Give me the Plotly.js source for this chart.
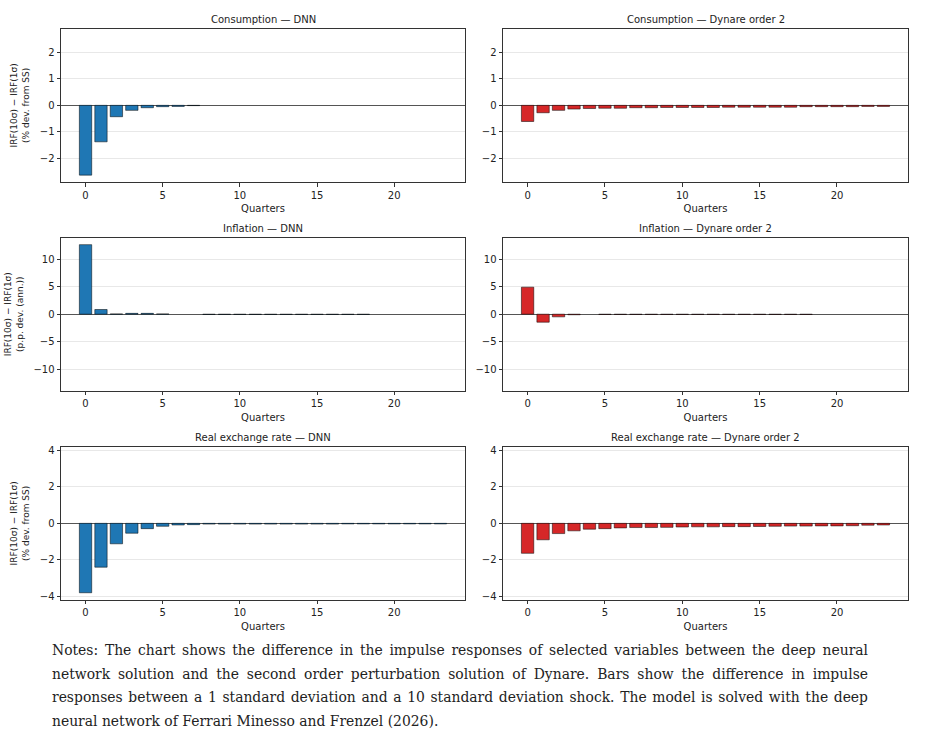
<!DOCTYPE html>
<html>
<head>
<meta charset="utf-8">
<script src="https://cdn.plot.ly/plotly-3.0.1.min.js"></script>
<style>
  body { margin: 0; background: #fff; }
  #chart { width: 936px; height: 636px; }
  #notes {
    position: absolute; left: 52px; top: 639px; width: 816px;
    font-family: "DejaVu Serif", serif; font-size: 13.9px; line-height: 23.5px; color: #222;
  }
  #notes div { text-align: justify; text-align-last: justify; white-space: nowrap; }
  #notes div.last { text-align-last: left; }
</style>
</head>
<body>
<div id="chart"></div>
<div id="notes">
  <div>Notes: The chart shows the difference in the impulse responses of selected variables between the deep neural</div>
  <div>network solution and the second order perturbation solution of Dynare. Bars show the difference in impulse</div>
  <div>responses between a 1 standard deviation and a 10 standard deviation shock. The model is solved with the deep</div>
  <div class="last">neural network of Ferrari Minesso and Frenzel (2026).</div>
</div>
<script>
var quarters = [];
for (var q = 0; q < 24; q++) quarters.push(q);

// null = no visible bar in the reference
var consDNN = [-2.64, -1.38, -0.43, -0.19, -0.09, -0.05, -0.04, -0.01, null, null, null, null, null, null, null, null, null, null, null, null, null, null, null, null];
var consDynare = [-0.61, -0.28, -0.19, -0.14, -0.12, -0.11, -0.11, -0.09, -0.09, -0.08, -0.08, -0.08, -0.08, -0.07, -0.07, -0.07, -0.07, -0.07, -0.05, -0.05, -0.05, -0.05, -0.04, -0.04];

var inflDNN = [12.6, 0.85, 0.05, 0.15, 0.15, 0.05, null, null, -0.05, -0.05, -0.05, -0.05, -0.05, -0.05, -0.05, -0.05, -0.05, -0.05, -0.05, null, null, null, null, null];
var inflDynare = [4.9, -1.45, -0.48, -0.1, null, -0.05, -0.05, -0.05, -0.05, -0.05, -0.05, -0.05, -0.05, -0.05, -0.05, -0.05, -0.05, -0.05, -0.05, null, null, null, null, null];

var rerDNN = [-3.8, -2.4, -1.12, -0.54, -0.29, -0.16, -0.09, -0.07, -0.04, -0.04, -0.04, -0.04, -0.04, -0.04, -0.04, -0.04, -0.04, -0.03, -0.03, -0.03, -0.03, -0.03, -0.03, -0.03];
var rerDynare = [-1.64, -0.9, -0.56, -0.41, -0.32, -0.29, -0.25, -0.23, -0.23, -0.22, -0.2, -0.19, -0.19, -0.18, -0.18, -0.17, -0.16, -0.15, -0.15, -0.14, -0.14, -0.13, -0.1, -0.09];

var panelTitles = ['Consumption — DNN', 'Consumption — Dynare order 2',
                   'Inflation — DNN', 'Inflation — Dynare order 2',
                   'Real exchange rate — DNN', 'Real exchange rate — Dynare order 2'];
var rowYTitles = ['IRF(10σ) − IRF(1σ)<br>(% dev. from SS)',
                  'IRF(10σ) − IRF(1σ)<br>(p.p. dev. (ann.))',
                  'IRF(10σ) − IRF(1σ)<br>(% dev. from SS)'];
var rowRanges = [[-2.9, 2.9], [-13.86, 13.86], [-4.18, 4.18]];
var rowTicks = [[-2, -1, 0, 1, 2], [-10, -5, 0, 5, 10], [-4, -2, 0, 2, 4]];

var series = [consDNN, consDynare, inflDNN, inflDynare, rerDNN, rerDynare];
var blue = '#1f77b4';
var red = '#d62728';

var H = 636, W = 936;
var colDomains = [[61 / W, 465 / W], [503 / W, 908 / W]];
var rowDomains = [[1 - 182 / H, 1 - 28.7 / H], [1 - 390.7 / H, 1 - 237.7 / H], [1 - 599.7 / H, 1 - 447 / H]];

var font = {family: 'DejaVu Sans, sans-serif', size: 10, color: '#222'};
var data = [];
var layout = {
  width: W, height: H,
  margin: {l: 0, r: 0, t: 0, b: 0},
  paper_bgcolor: '#fff', plot_bgcolor: '#fff',
  showlegend: false,
  font: font,
  annotations: []
};

for (var i = 0; i < 6; i++) {
  var row = Math.floor(i / 2);
  var col = i % 2;
  var n = i + 1;
  var xa = n === 1 ? 'x' : 'x' + n;
  var ya = n === 1 ? 'y' : 'y' + n;

  data.push({
    type: 'bar',
    x: quarters,
    y: series[i],
    width: 0.8,
    xaxis: xa, yaxis: ya,
    marker: {color: col === 0 ? blue : red, line: {color: 'rgba(0,0,0,0.85)', width: 0.6}},
    hoverinfo: 'x+y'
  });

  layout['xaxis' + (n === 1 ? '' : n)] = {
    domain: colDomains[col], anchor: ya,
    range: [-1.59, 24.59],
    tickvals: [0, 5, 10, 15, 20],
    ticks: 'outside', ticklen: 3.5, tickcolor: '#333', tickfont: font,
    showgrid: false, zeroline: false,
    showline: true, mirror: true, linecolor: '#333', linewidth: 1,
    title: {text: 'Quarters', font: font, standoff: 5}
  };
  layout['yaxis' + (n === 1 ? '' : n)] = {
    domain: rowDomains[row], anchor: xa,
    range: rowRanges[row],
    tickvals: rowTicks[row],
    ticktext: rowTicks[row].map(function (v) { return v < 0 ? '−' + Math.abs(v) : String(v); }),
    ticks: 'outside', ticklen: 3.5, tickcolor: '#333', tickfont: font,
    showgrid: true, gridcolor: 'rgba(0,0,0,0.09)', gridwidth: 1,
    zeroline: true, zerolinecolor: '#555', zerolinewidth: 1,
    showline: true, mirror: true, linecolor: '#333', linewidth: 1,
    title: col === 0 ? {text: rowYTitles[row], font: {family: font.family, size: 9, color: '#222'}, standoff: 8} : {text: ''}
  };

  layout.annotations.push({
    text: panelTitles[i],
    xref: 'paper', yref: 'paper',
    x: (colDomains[col][0] + colDomains[col][1]) / 2,
    y: rowDomains[row][1],
    xanchor: 'center', yanchor: 'bottom', yshift: 2,
    showarrow: false,
    font: font
  });
}

Plotly.newPlot('chart', data, layout, {displayModeBar: false, staticPlot: true});
</script>
</body>
</html>
